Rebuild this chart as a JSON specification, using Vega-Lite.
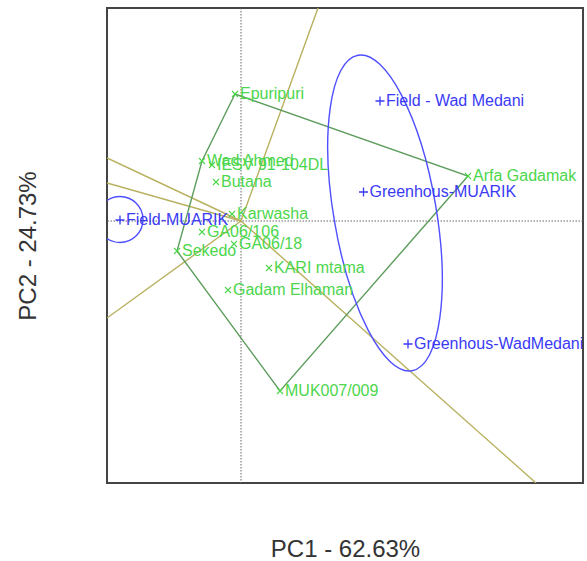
{
  "$schema": "https://vega.github.io/schema/vega-lite/v6.json",
  "width": 476,
  "height": 475,
  "autosize": "none",
  "padding": {"left": 107, "top": 8, "right": 4, "bottom": 78},
  "background": "white",
  "config": {
    "view": {"stroke": "#444444", "strokeWidth": 2},
    "font": "Liberation Sans",
    "axis": {"labels": false, "ticks": false, "domain": false, "grid": false, "titleFont": "Liberation Sans", "titleFontSize": 24, "titleColor": "#333333", "titleFontWeight": "normal"},
    "axisX": {"titlePadding": 54},
    "axisY": {"titlePadding": 67}
  },
  "datasets": {
    "genotypes": [
      {"name": "Epuripuri", "x": -0.06, "y": 1.27},
      {"name": "Wad Ahmed", "x": -0.39, "y": 0.60},
      {"name": "IESV 91-104DL", "x": -0.29, "y": 0.56},
      {"name": "Butana", "x": -0.25, "y": 0.39},
      {"name": "Karwasha", "x": -0.09, "y": 0.07},
      {"name": "GA06/106", "x": -0.39, "y": -0.11},
      {"name": "GA06/18", "x": -0.07, "y": -0.23},
      {"name": "Sekedo", "x": -0.64, "y": -0.30},
      {"name": "KARI mtama", "x": 0.28, "y": -0.47},
      {"name": "Gadam Elhaman", "x": -0.13, "y": -0.69},
      {"name": "MUK007/009", "x": 0.39, "y": -1.70},
      {"name": "Arfa Gadamak", "x": 2.27, "y": 0.45}
    ],
    "environments": [
      {"name": "Field-MUARIK", "x": -1.21, "y": 0.01},
      {"name": "Field - Wad Medani", "x": 1.39, "y": 1.20},
      {"name": "Greenhous-MUARIK", "x": 1.225, "y": 0.29},
      {"name": "Greenhous-WadMedani", "x": 1.67, "y": -1.23}
    ],
    "hull": [
      {"name": "Epuripuri", "x": -0.06, "y": 1.27, "order": 1},
      {"name": "Arfa Gadamak", "x": 2.27, "y": 0.45, "order": 2},
      {"name": "MUK007/009", "x": 0.39, "y": -1.70, "order": 3},
      {"name": "Sekedo", "x": -0.64, "y": -0.30, "order": 4},
      {"name": "Wad Ahmed", "x": -0.39, "y": 0.60, "order": 5},
      {"name": "Epuripuri", "x": -0.06, "y": 1.27, "order": 6}
    ],
    "sectors": [
      {"x": 0, "y": 0, "x2": 0.77, "y2": 2.13},
      {"x": 0, "y": 0, "x2": 2.95, "y2": -2.62},
      {"x": 0, "y": 0, "x2": -1.34, "y2": -0.97},
      {"x": 0, "y": 0, "x2": -1.34, "y2": 0.63},
      {"x": 0, "y": 0, "x2": -1.34, "y2": 0.38}
    ],
    "bigEllipse": [{"name": "Wad Medani and Greenhous-MUARIK", "x": 1.44, "y": 0.08}],
    "smallCircle": [{"name": "Field-MUARIK", "x": -1.21, "y": 0.015}]
  },
  "layer": [
    {
      "data": {"values": [{"x": 0}]},
      "mark": {"type": "rule", "color": "#666666", "strokeWidth": 1, "strokeDash": [1.5, 1.5]},
      "encoding": {
        "x": {"field": "x", "type": "quantitative", "title": "PC1 - 62.63%", "scale": {"domain": [-1.34, 3.42], "nice": false, "zero": false}}
      }
    },
    {
      "data": {"values": [{"y": 0}]},
      "mark": {"type": "rule", "color": "#666666", "strokeWidth": 1, "strokeDash": [1.5, 1.5]},
      "encoding": {
        "y": {"field": "y", "type": "quantitative", "title": "PC2 - 24.73%", "scale": {"domain": [-2.62, 2.13], "nice": false, "zero": false}}
      }
    },
    {
      "data": {"name": "sectors"},
      "mark": {"type": "rule", "color": "#b8b05e", "strokeWidth": 1.4, "clip": true},
      "encoding": {
        "x": {"field": "x", "type": "quantitative", "title": "PC1 - 62.63%"},
        "y": {"field": "y", "type": "quantitative", "title": "PC2 - 24.73%"},
        "x2": {"field": "x2"},
        "y2": {"field": "y2"}
      }
    },
    {
      "data": {"name": "hull"},
      "mark": {"type": "line", "color": "#5c9c5c", "strokeWidth": 1.4},
      "encoding": {
        "x": {"field": "x", "type": "quantitative", "title": "PC1 - 62.63%"},
        "y": {"field": "y", "type": "quantitative", "title": "PC2 - 24.73%"},
        "order": {"field": "order", "type": "quantitative"}
      }
    },
    {
      "data": {"name": "bigEllipse"},
      "mark": {"type": "point", "shape": "M 0 -1 C 0.1767 -1 0.32 -0.5523 0.32 0 C 0.32 0.5523 0.1767 1 0 1 C -0.1767 1 -0.32 0.5523 -0.32 0 C -0.32 -0.5523 -0.1767 -1 0 -1 Z", "size": 102400, "angle": 350.3, "filled": false, "color": "#4f4fff", "strokeWidth": 1.4, "opacity": 1},
      "encoding": {
        "x": {"field": "x", "type": "quantitative", "title": "PC1 - 62.63%"},
        "y": {"field": "y", "type": "quantitative", "title": "PC2 - 24.73%"}
      }
    },
    {
      "data": {"name": "smallCircle"},
      "mark": {"type": "point", "shape": "circle", "size": 2116, "filled": false, "color": "#4f4fff", "strokeWidth": 1.4, "opacity": 1, "clip": true},
      "encoding": {
        "x": {"field": "x", "type": "quantitative", "title": "PC1 - 62.63%"},
        "y": {"field": "y", "type": "quantitative", "title": "PC2 - 24.73%"}
      }
    },
    {
      "data": {"name": "genotypes"},
      "mark": {"type": "point", "shape": "M -1 -1 L 1 1 M -1 1 L 1 -1", "size": 36, "filled": false, "color": "#4cd64c", "strokeWidth": 1.1, "opacity": 1},
      "encoding": {
        "x": {"field": "x", "type": "quantitative", "title": "PC1 - 62.63%"},
        "y": {"field": "y", "type": "quantitative", "title": "PC2 - 24.73%"}
      }
    },
    {
      "data": {"name": "environments"},
      "mark": {"type": "point", "shape": "M -1 0 L 1 0 M 0 -1 L 0 1", "size": 81, "filled": false, "color": "#3a3af5", "strokeWidth": 1.3, "opacity": 1},
      "encoding": {
        "x": {"field": "x", "type": "quantitative", "title": "PC1 - 62.63%"},
        "y": {"field": "y", "type": "quantitative", "title": "PC2 - 24.73%"}
      }
    },
    {
      "data": {"name": "genotypes"},
      "mark": {"type": "text", "align": "left", "baseline": "middle", "dx": 5, "fontSize": 16, "color": "#4cd64c", "font": "Liberation Sans", "clip": true},
      "encoding": {
        "x": {"field": "x", "type": "quantitative", "title": "PC1 - 62.63%"},
        "y": {"field": "y", "type": "quantitative", "title": "PC2 - 24.73%"},
        "text": {"field": "name"}
      }
    },
    {
      "data": {"name": "environments"},
      "mark": {"type": "text", "align": "left", "baseline": "middle", "dx": 6, "fontSize": 16, "color": "#3a3af5", "font": "Liberation Sans", "clip": true},
      "encoding": {
        "x": {"field": "x", "type": "quantitative", "title": "PC1 - 62.63%"},
        "y": {"field": "y", "type": "quantitative", "title": "PC2 - 24.73%"},
        "text": {"field": "name"}
      }
    }
  ]
}
